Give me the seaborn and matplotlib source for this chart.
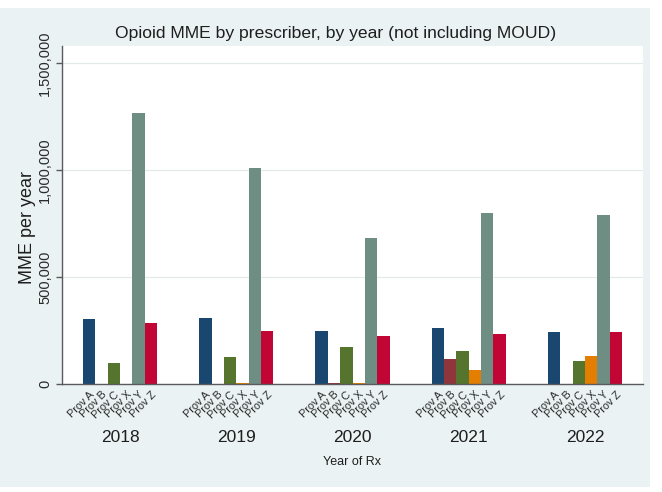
import pandas as pd
import seaborn as sns
import matplotlib.pyplot as plt
import matplotlib.transforms as mtransforms
from matplotlib.patches import Rectangle
from matplotlib.ticker import FuncFormatter

years = ['2018', '2019', '2020', '2021', '2022']
providers = ['Prov A', 'Prov B', 'Prov C', 'Prov X', 'Prov Y', 'Prov Z']
prov_a = [305000, 308000, 248000, 262000, 243000]
prov_b = [0, 0, 4000, 117000, 0]
prov_c = [98000, 126000, 173000, 154000, 107000]
prov_x = [0, 5000, 4000, 65000, 131000]
prov_y = [1268000, 1009000, 682000, 799000, 792000]
prov_z = [285000, 248000, 224000, 234000, 243000]

series = [prov_a, prov_b, prov_c, prov_x, prov_y, prov_z]
rows = []
for prov, vals in zip(providers, series):
    for yr, v in zip(years, vals):
        rows.append({'Year': yr, 'Provider': prov, 'MME': v})
df = pd.DataFrame(rows)

colors = ['#1A476F', '#90353B', '#55752F', '#E37E00', '#6E8E84', '#C10534']

sns.set_theme(style="white")
plt.rcParams['font.family'] = ['Liberation Sans', 'DejaVu Sans']

fig = plt.figure(figsize=(6.62, 4.92), dpi=100, facecolor='white')
fig.patches.append(Rectangle((0, 5 / 492), 650 / 662, 479 / 492, transform=fig.transFigure,
                             facecolor='#EAF2F3', edgecolor='none', zorder=-1))
ax = fig.add_axes([62 / 662, 108 / 492, 581 / 662, 338 / 492])
ax.set_facecolor('white')

sns.barplot(data=df, x='Year', y='MME', hue='Provider', hue_order=providers,
            palette=colors, width=0.64, gap=0, linewidth=0, saturation=1,
            legend=False, ax=ax)

ax.set_xlim(-0.5, 4.5)
ax.set_ylim(0, 1580000)
ax.set_yticks([0, 500000, 1000000, 1500000])
ax.yaxis.set_major_formatter(FuncFormatter(lambda v, p: f'{int(v):,}'))
ax.grid(axis='y', color='#E2EAEC', linewidth=0.9)
ax.set_axisbelow(True)
for s in ['top', 'right']:
    ax.spines[s].set_visible(False)
for s in ['left', 'bottom']:
    ax.spines[s].set_color('#5A5A5A')
    ax.spines[s].set_linewidth(1.0)

ax.tick_params(axis='y', length=4, width=1, color='#5A5A5A', pad=3, labelsize=10.5,
               labelcolor='#2A2A2A', left=True)
for lbl in ax.get_yticklabels():
    lbl.set_rotation(90)
    lbl.set_va('center')
    lbl.set_ha('right')

# one tick label per bar, placed under each bar
centers, labels = [], []
for prov, cont in zip(providers, ax.containers):
    for bar in cont:
        centers.append(bar.get_x() + bar.get_width() / 2)
        labels.append(prov)
ax.set_xticks(centers)
ax.set_xticklabels(labels, rotation=45, ha='right', va='top', rotation_mode='anchor',
                   fontsize=7.8, color='#2A2A2A')
ax.tick_params(axis='x', length=0, pad=4)
ax.set_xlabel('')
ax.set_ylabel('')

trans = mtransforms.blended_transform_factory(ax.transData, ax.transAxes)
for i, yr in enumerate(years):
    ax.text(i, -0.157, yr, transform=trans, ha='center', va='center',
            fontsize=12.5, color='#1E1E1E')

fig.text(352 / 662, 1 - 462 / 492, 'Year of Rx', ha='center', va='center',
         fontsize=9, color='#1E1E1E')
fig.text(28 / 662, 1 - 228 / 492, 'MME per year', rotation=90, ha='center', va='center',
         fontsize=13, color='#1E1E1E')
fig.text(336 / 662, 1 - 33 / 492, 'Opioid MME by prescriber, by year (not including MOUD)',
         ha='center', va='center', fontsize=12.6, color='#1E1E1E')

fig.savefig('out.png', dpi=100, facecolor=fig.get_facecolor())
